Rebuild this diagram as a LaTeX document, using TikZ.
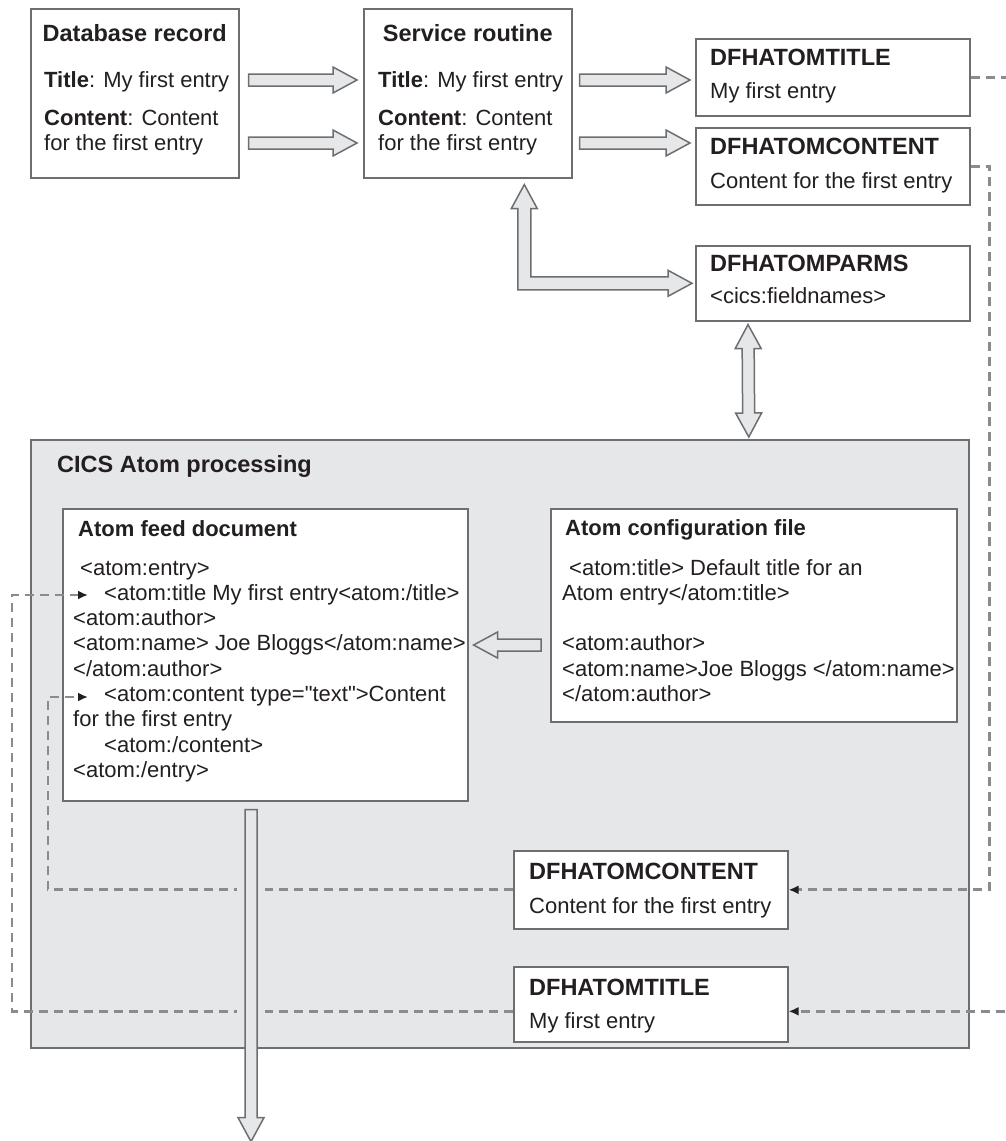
\documentclass[tikz,border=0pt]{standalone}
\usepackage{fontspec}
\setmainfont{Liberation Sans}[Ligatures=TeXOff]
\usetikzlibrary{calc,arrows.meta}

\definecolor{boxline}{HTML}{6D6E71}
\definecolor{cicsfill}{HTML}{E6E7E9}
\definecolor{ink}{HTML}{231F20}
\definecolor{dashgray}{HTML}{8A8B8D}

% hollow block arrow from #1 to #2
\newcommand{\fatarrow}[2]{%
  \draw[fat] ($(#1)!6pt!90:(#2)$) -- ($(#2)!24pt!(#1)!6pt!-90:(#1)$)
    -- ($(#2)!24pt!(#1)!13pt!-90:(#1)$) -- (#2)
    -- ($(#2)!24pt!(#1)!13pt!90:(#1)$) -- ($(#2)!24pt!(#1)!6pt!90:(#1)$)
    -- ($(#1)!6pt!-90:(#2)$) -- cycle;}
% hollow block arrow, heads at both ends
\newcommand{\fatdarrow}[2]{%
  \draw[fat] (#1) -- ($(#1)!24pt!(#2)!13pt!90:(#2)$) -- ($(#1)!24pt!(#2)!6pt!90:(#2)$)
    -- ($(#2)!24pt!(#1)!6pt!-90:(#1)$) -- ($(#2)!24pt!(#1)!13pt!-90:(#1)$) -- (#2)
    -- ($(#2)!24pt!(#1)!13pt!90:(#1)$) -- ($(#2)!24pt!(#1)!6pt!90:(#1)$)
    -- ($(#1)!24pt!(#2)!6pt!-90:(#2)$) -- ($(#1)!24pt!(#2)!13pt!-90:(#2)$) -- cycle;}

\begin{document}
\begin{tikzpicture}[x=1pt,y=-1pt,>={Latex[length=10pt,width=9pt,color=ink]},
    box/.style={draw=boxline,line width=1.6pt,fill=white,anchor=north west,inner sep=0pt},
    head/.style={font=\fontsize{23.5}{28}\selectfont\bfseries,text=ink,inner sep=0pt},
    subhead/.style={font=\fontsize{22}{25.3}\selectfont\bfseries,text=ink,inner sep=0pt,anchor=base west},
    txt/.style={font=\fontsize{22}{25.3}\selectfont,text=ink,inner sep=0pt,align=left,anchor=base west},
    fat/.style={draw=boxline,fill=cicsfill,line width=1.5pt,line join=miter},
    link/.style={draw=dashgray,line width=2.8pt,dash pattern=on 9pt off 6pt}]
  \useasboundingbox (0,0) rectangle (1005,1141);

  % boxes
  \node[box,fill=cicsfill,minimum width=938,minimum height=608] (cics) at (30,439) {};
  \node[box,minimum width=208,minimum height=169] (dbrec) at (30,8) {};
  \node[box,minimum width=208,minimum height=169] (svc) at (363,8) {};
  \node[box,minimum width=274,minimum height=77] (dfhtitle) at (695,38) {};
  \node[box,minimum width=274,minimum height=77] (dfhcont) at (695,127) {};
  \node[box,minimum width=274,minimum height=75] (parms) at (695,245) {};
  \node[box,minimum width=405,minimum height=292] (feed) at (62,508) {};
  \node[box,minimum width=406,minimum height=213] (config) at (550,508) {};
  \node[box,minimum width=274,minimum height=78] (icont) at (513,850) {};
  \node[box,minimum width=274,minimum height=75] (ititle) at (513,966) {};

  % texts (multi-line nodes sit on their last baseline)
  \node[head,anchor=base] (dbhead) at ([shift={(0,33)}]dbrec.north) {Database record};
  \node[txt] (dbtitle) at ([shift={(14,79)}]dbrec.north west) {\textbf{Title}: My first entry};
  \node[txt] (dbcont) at ([shift={(14,142.3)}]dbrec.north west) {\textbf{Content}: Content\\for the first entry};

  \node[head,anchor=base] (svchead) at ([shift={(0,33)}]svc.north) {Service routine};
  \node[txt] (svctitle) at ([shift={(15,79)}]svc.north west) {\textbf{Title}: My first entry};
  \node[txt] (svccont) at ([shift={(15,142.3)}]svc.north west) {\textbf{Content}: Content\\for the first entry};

  \node[head,anchor=base west] (dfhtitlehead) at ([shift={(15,27)}]dfhtitle.north west) {DFHATOMTITLE};
  \node[txt] (dfhtitletxt) at ([shift={(15,60)}]dfhtitle.north west) {My first entry};
  \node[head,anchor=base west] (dfhconthead) at ([shift={(15,27)}]dfhcont.north west) {DFHATOMCONTENT};
  \node[txt] (dfhconttxt) at ([shift={(15,61)}]dfhcont.north west) {Content for the first entry};
  \node[head,anchor=base west] (parmshead) at ([shift={(15,26)}]parms.north west) {DFHATOMPARMS};
  \node[txt] (parmstxt) at ([shift={(15,58)}]parms.north west) {<cics:fieldnames>};

  \node[head,anchor=base west] (cicshead) at ([shift={(27,33)}]cics.north west) {CICS Atom processing};

  \node[subhead] (feedhead) at ([shift={(16,28)}]feed.north west) {Atom feed document};
  \node[txt] (feedtxt) at ([shift={(11,269.4)}]feed.north west)
    {\hspace*{7pt}<atom:entry>\\
     \hspace*{31pt}<atom:title My first entry<atom:/title>\\
     <atom:author>\\
     <atom:name> Joe Bloggs</atom:name>\\
     </atom:author>\\
     \hspace*{31pt}<atom:content type="text">Content\\
     for the first entry\\
     \hspace*{31pt}<atom:/content>\\
     <atom:/entry>};

  \node[subhead] (confighead) at ([shift={(15,27)}]config.north west) {Atom configuration file};
  \node[txt] (configtxt) at ([shift={(12,193.5)}]config.north west)
    {\hspace*{7pt}<atom:title> Default title for an\\
     Atom entry</atom:title>\\[25.3pt]
     <atom:author>\\
     <atom:name>Joe Bloggs </atom:name>\\
     </atom:author>};

  \node[head,anchor=base west] (iconthead) at ([shift={(16,29)}]icont.north west) {DFHATOMCONTENT};
  \node[txt] (iconttxt) at ([shift={(16,63)}]icont.north west) {Content for the first entry};
  \node[head,anchor=base west] (ititlehead) at ([shift={(16,29)}]ititle.north west) {DFHATOMTITLE};
  \node[txt] (ititletxt) at ([shift={(16,62)}]ititle.north west) {My first entry};

  % dashed links
  \coordinate (ttip) at ([shift={(26,87)}]feed.north west);
  \coordinate (ctip) at ([shift={(26,189)}]feed.north west);
  \draw[link,->] (dfhtitle.east) -- ++(45,0) |- ([shift={(0,7)}]ititle.east);
  \draw[link,->] (dfhcont.east) -- ++(19,0) |- (icont.east);
  \draw[link,->] (icont.west) -| ([shift={(-40,0)}]ctip) -- (ctip);
  \draw[link,->] ([shift={(0,7)}]ititle.west) -| ([shift={(-76,0)}]ttip) -- (ttip);

  % block arrows
  \coordinate (a1s) at ([shift={(9,72)}]dbrec.north east);
  \coordinate (a1e) at ([shift={(-6,72)}]svc.north west);
  \coordinate (a2s) at ([shift={(9,135)}]dbrec.north east);
  \coordinate (a2e) at ([shift={(-6,135)}]svc.north west);
  \coordinate (a3s) at ([shift={(7,72)}]svc.north east);
  \coordinate (a3e) at ([shift={(-5,42)}]dfhtitle.north west);
  \coordinate (a4s) at ([shift={(7,135)}]svc.north east);
  \coordinate (a4e) at ([shift={(-5,16)}]dfhcont.north west);
  \fatarrow{a1s}{a1e}
  \fatarrow{a2s}{a2e}
  \fatarrow{a3s}{a3e}
  \fatarrow{a4s}{a4e}

  \coordinate (ltipa) at ([shift={(56.5,6)}]svc.south);
  \coordinate (ltipb) at ([shift={(-3,0)}]parms.west);
  \draw[fat] (ltipa) -- ++(13,24) -- ++(-6.5,0) |- ([shift={(-24,-6.5)}]ltipb)
    -- ++(0,-6.5) -- (ltipb) -- ++(-24,13) -- ++(0,-6.5)
    -| ([shift={(-6.5,24)}]ltipa) -- ++(-6.5,0) -- cycle;

  \coordinate (d1) at ([shift={(53,3)}]parms.south west);
  \coordinate (d2) at ([shift={(249,-2)}]cics.north);
  \fatdarrow{d1}{d2}

  \coordinate (cfs) at ([shift={(-9,137)}]config.north west);
  \coordinate (cfe) at ([shift={(5,137)}]feed.north east);
  \fatarrow{cfs}{cfe}

  \coordinate (fstart) at ([shift={(189,8)}]feed.south west);
  \coordinate (fend) at ([shift={(221,93)}]cics.south west);
  \fill[cicsfill] ([shift={(-14,-7)}]fstart) rectangle ([shift={(235,-2)}]cics.south west);
  \fatarrow{fstart}{fend}
\end{tikzpicture}
\end{document}
